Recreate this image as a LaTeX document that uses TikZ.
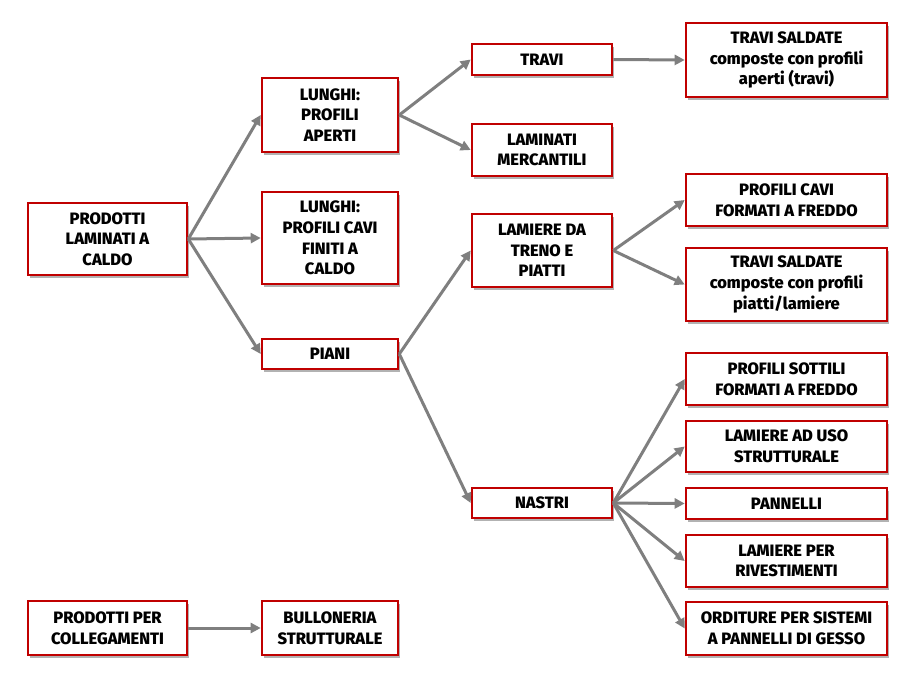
\documentclass[tikz,border=0pt]{standalone}
\usepackage{fontspec}
\setmainfont{Fira Sans}[BoldFont={Fira Sans ExtraBold}]
\usetikzlibrary{arrows.meta,shadows}
\definecolor{boxred}{HTML}{C00000}
\definecolor{arrgray}{HTML}{7F7F7F}
\begin{document}
\begin{tikzpicture}[x=1pt,y=-1pt,
  box/.style={draw=boxred,line width=2.6pt,fill=white,align=center,inner sep=0pt,
    font=\fontsize{16.5}{20.7}\selectfont\bfseries,
    drop shadow={shadow xshift=2pt,shadow yshift=-2.5pt,fill=black,opacity=.3}},
  conn/.style={draw=arrgray,line width=3pt,-{Triangle[length=10pt,width=10pt]}}]
\useasboundingbox (0,0) rectangle (921,680);
\node[box,minimum width=159pt,minimum height=72pt] (A) at (107.5,239) {PRODOTTI\\LAMINATI A\\CALDO};
\node[box,minimum width=136pt,minimum height=74pt] (B) at (330,115) {LUNGHI:\\PROFILI\\APERTI};
\node[box,minimum width=136pt,minimum height=92pt] (C) at (330,238) {LUNGHI:\\PROFILI CAVI\\FINITI A\\CALDO};
\node[box,minimum width=136pt,minimum height=30pt] (D) at (330,354) {PIANI};
\node[box,minimum width=140pt,minimum height=31pt] (E) at (542,59.5) {TRAVI};
\node[box,minimum width=140pt,minimum height=52pt] (F) at (542,150) {LAMINATI\\MERCANTILI};
\node[box,minimum width=140pt,minimum height=73pt] (G) at (542,250.5) {LAMIERE DA\\TRENO E\\PIATTI};
\node[box,minimum width=140pt,minimum height=30pt] (H) at (542,503) {NASTRI};
\node[box,minimum width=201pt,minimum height=74pt] (I) at (786.5,60) {TRAVI SALDATE\\composte con profili\\aperti (travi)};
\node[box,minimum width=201pt,minimum height=52pt] (J) at (786.5,200) {PROFILI CAVI\\FORMATI A FREDDO};
\node[box,minimum width=201pt,minimum height=73pt] (K) at (786.5,284.5) {TRAVI SALDATE\\composte con profili\\piatti/lamiere};
\node[box,minimum width=201pt,minimum height=52pt] (L) at (786.5,379) {PROFILI SOTTILI\\FORMATI A FREDDO};
\node[box,minimum width=201pt,minimum height=51pt] (M) at (786.5,446.5) {LAMIERE AD USO\\STRUTTURALE};
\node[box,minimum width=201pt,minimum height=31pt] (N) at (786.5,503.5) {PANNELLI};
\node[box,minimum width=201pt,minimum height=52pt] (O) at (786.5,561) {LAMIERE PER\\RIVESTIMENTI};
\node[box,minimum width=201pt,minimum height=53pt] (P) at (786.5,628.5) {ORDITURE PER SISTEMI\\A PANNELLI DI GESSO};
\node[box,minimum width=159pt,minimum height=54pt] (Q) at (107.5,628) {PRODOTTI PER\\COLLEGAMENTI};
\node[box,minimum width=136pt,minimum height=54pt] (R) at (330,628) {BULLONERIA\\STRUTTURALE};
\draw[conn] (A.east) -- (B.west);
\draw[conn] (A.east) -- (C.west);
\draw[conn] (A.east) -- (D.west);
\draw[conn] (B.east) -- (E.west);
\draw[conn] (B.east) -- (F.west);
\draw[conn] (D.east) -- (G.west);
\draw[conn] (D.east) -- (H.west);
\draw[conn] (E.east) -- (I.west);
\draw[conn] (G.east) -- (J.west);
\draw[conn] (G.east) -- (K.west);
\draw[conn] (H.east) -- (L.west);
\draw[conn] (H.east) -- (M.west);
\draw[conn] (H.east) -- (N.west);
\draw[conn] (H.east) -- (O.west);
\draw[conn] (H.east) -- (P.west);
\draw[conn] (Q.east) -- (R.west);
\end{tikzpicture}
\end{document}
